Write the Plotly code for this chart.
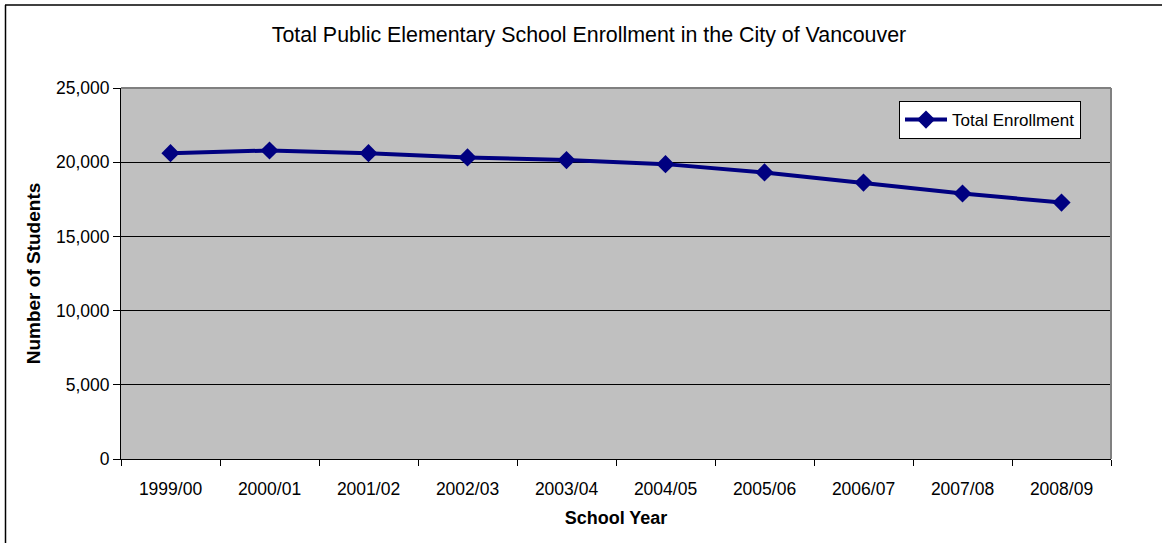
import plotly.graph_objects as go

years = ["1999/00", "2000/01", "2001/02", "2002/03", "2003/04",
         "2004/05", "2005/06", "2006/07", "2007/08", "2008/09"]
enrollment = [20610, 20790, 20610, 20320, 20140, 19870, 19310, 18630, 17890, 17280]
y_ticks = [0, 5000, 10000, 15000, 20000, 25000]

FONT = "Arial, Liberation Sans, sans-serif"
W, H = 1162, 543
ML, MR, MT, MB = 121, 51, 88, 84

fig = go.Figure()
fig.add_trace(go.Scatter(
    x=years, y=enrollment, mode="lines+markers", name="Total Enrollment",
    line=dict(color="#000080", width=4),
    marker=dict(symbol="diamond", size=14, color="#000080"),
))

fig.update_layout(
    width=W, height=H,
    margin=dict(l=ML, r=MR, t=MT, b=MB, autoexpand=False),
    paper_bgcolor="white", plot_bgcolor="#C0C0C0",
    font=dict(family=FONT, size=17.5, color="black"),
    title=dict(text="Total Public Elementary School Enrollment in the City of Vancouver",
               x=589 / W, xref="container", xanchor="center",
               y=1 - 35 / H, yref="container", yanchor="middle",
               font=dict(family=FONT, size=21.4, color="black")),
    showlegend=True,
    legend=dict(x=(899 - ML) / (W - ML - MR), y=(H - MB - 101) / (H - MT - MB),
                xanchor="left", yanchor="top",
                bgcolor="white", bordercolor="black", borderwidth=1,
                font=dict(family=FONT, size=17, color="black"),
                itemwidth=42, tracegroupgap=0),
    xaxis=dict(
        type="category", tickson="boundaries", ticks="outside", ticklen=6,
        tickcolor="black", showline=True, linecolor="black", linewidth=1,
        showgrid=False, range=[-0.5, 9.5], ticklabelstandoff=14,
        tickfont=dict(family=FONT, size=17.5),
        title=dict(text="<b>School Year</b>", font=dict(family=FONT, size=18), standoff=13),
    ),
    yaxis=dict(
        range=[0, 25000], tickvals=y_ticks, tickformat=",",
        ticks="outside", ticklen=7, tickcolor="black",
        showline=True, linecolor="black", linewidth=1,
        showgrid=True, gridcolor="black", gridwidth=1, zeroline=False,
        tickfont=dict(family=FONT, size=17.5),
        title=dict(text="<b>Number of Students</b>", font=dict(family=FONT, size=19), standoff=10),
    ),
)

# gray plot-area border (top and right)
fig.add_shape(type="line", xref="paper", yref="paper", x0=0, x1=1, y0=1, y1=1,
              line=dict(color="#808080", width=2))
fig.add_shape(type="line", xref="paper", yref="paper", x0=1, x1=1, y0=0, y1=1,
              line=dict(color="#808080", width=2))

# outer chart border (top and left visible)
pw, ph = W - ML - MR, H - MT - MB
fig.add_shape(type="line", xref="paper", yref="paper",
              x0=(5 - ML) / pw, x1=(W - ML) / pw,
              y0=(H - MB - 5) / ph, y1=(H - MB - 5) / ph,
              line=dict(color="black", width=1.5))
fig.add_shape(type="line", xref="paper", yref="paper",
              x0=(5.5 - ML) / pw, x1=(5.5 - ML) / pw,
              y0=(H - MB - 5) / ph, y1=-MB / ph,
              line=dict(color="black", width=1.5))

fig.write_html("out.html", config={"displayModeBar": False},
               post_script="document.body.style.margin='0';document.body.style.overflow='hidden';")
